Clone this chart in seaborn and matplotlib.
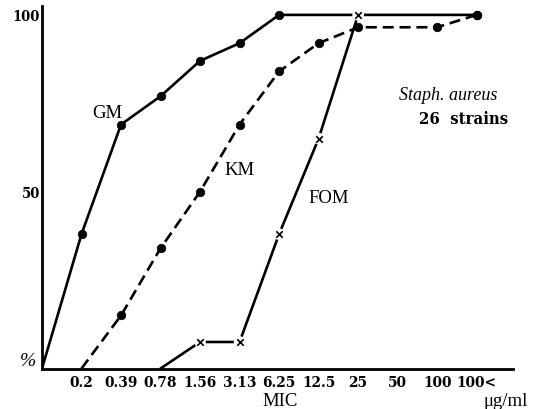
import matplotlib
matplotlib.use("Agg")
import matplotlib.pyplot as plt
import seaborn as sns
import numpy as np
import pandas as pd
from matplotlib import font_manager as fm

# MIC categories (position 0 = origin, unlabeled)
mic_labels = ["0.2", "0.39", "0.78", "1.56", "3.13", "6.25", "12.5", "25", "50", "100", "100<"]
# cumulative % of strains inhibited, leading entry = origin
gm  = [0, 38, 69, 77, 87, 92, 100, None, None, None, None, 100]
km  = [None, 0, 15, 34, 50, 69, 84, 92, 96.5, None, 96.5, 100]
fom = [None, None, None, 0, 7.5, 7.5, 38, 65, 100, None, None, None]
y_ticks = [50, 100]

sns.set_theme(style="white")
plt.rcParams["font.family"] = ["Liberation Serif", "DejaVu Serif"]
plt.rcParams["text.color"] = "black"

cond = fm.FontProperties(family="DejaVu Serif", stretch="condensed", weight="bold", size=11)
cond_y = fm.FontProperties(family="DejaVu Serif", stretch="condensed", weight="bold", size=10.5)
cond_t = fm.FontProperties(family="DejaVu Serif", stretch="condensed", weight="bold", size=12)

fig = plt.figure(figsize=(5.35, 4.10), dpi=100)
W, H = 535, 410
ax = fig.add_axes([42 / W, 40.5 / H, (513 - 42) / W, (369.5 - 6.7) / H])

def frame(vals):
    d = pd.DataFrame({"x": np.arange(len(vals)), "y": vals}).dropna()
    return d

d_gm, d_km, d_fom = frame(gm), frame(km), frame(fom)
lw = 1.9

sns.lineplot(data=d_gm, x="x", y="y", ax=ax, color="black", lw=lw, zorder=3)
ax.plot(d_km["x"], d_km["y"], color="black", lw=lw, ls=(0, (4.2, 2.2)), zorder=3)
sns.lineplot(data=d_fom, x="x", y="y", ax=ax, color="black", lw=lw, zorder=3)

# markers (skip the zero starting points)
m_gm = d_gm[d_gm["y"] > 0]
m_km = d_km[d_km["y"] > 0]
m_fom = d_fom[d_fom["y"] > 0]
sns.scatterplot(data=m_gm, x="x", y="y", ax=ax, color="black", s=38, marker="o",
                edgecolor="black", zorder=5)
sns.scatterplot(data=m_km, x="x", y="y", ax=ax, color="black", s=38, marker="o",
                edgecolor="black", zorder=5)
ax.scatter(m_fom["x"], m_fom["y"], s=70, marker="o", color="white", edgecolor="none", zorder=4)
ax.scatter(m_fom["x"], m_fom["y"], s=22, marker="x", color="black", linewidths=1.2, zorder=5)

ax.set_xlim(0, 11.92)
ax.set_ylim(0, 102.6)
ax.set_xticks(np.arange(1, len(mic_labels) + 1))
ax.set_xticklabels(mic_labels, fontproperties=cond)
ax.set_yticks(y_ticks)
ax.set_yticklabels([str(v) for v in y_ticks], fontproperties=cond_y)
ax.tick_params(axis="x", direction="in", length=5, width=1.4, pad=4.5, colors="black")
ax.tick_params(axis="y", direction="in", length=5, width=1.4, pad=1.5, colors="black")
ax.set_xlabel("")
ax.set_ylabel("")

for s in ["top", "right"]:
    ax.spines[s].set_visible(False)
for s in ["left", "bottom"]:
    ax.spines[s].set_color("black")
    ax.spines[s].set_linewidth(2.0)

def px(x, y):
    return (x - 42) / 39.3, (369.5 - y) / 3.54

ax.text(*px(106.7, 113), "GM", fontsize=13.5, ha="center", va="center")
ax.text(*px(238.3, 170), "KM", fontsize=13.5, ha="center", va="center")
ax.text(*px(327.3, 198.3), "FOM", fontsize=13.5, ha="center", va="center")
ax.text(*px(445.7, 95), "Staph. aureus", fontsize=13, style="italic",
        ha="center", va="center")
ax.text(*px(461.7, 119.3), "26  strains", fontproperties=cond_t, ha="center", va="center")

fig.text(28 / W, 1 - 362 / H, "%", fontsize=14, style="italic", ha="center", va="center")
fig.text(280 / W, 1 - 401.5 / H, "MIC", fontsize=13.5, ha="center", va="center")
fig.text(506 / W, 1 - 401.5 / H, "μg/ml", fontsize=13.5, ha="center", va="center")

fig.savefig("out.png", dpi=100, facecolor="white")
